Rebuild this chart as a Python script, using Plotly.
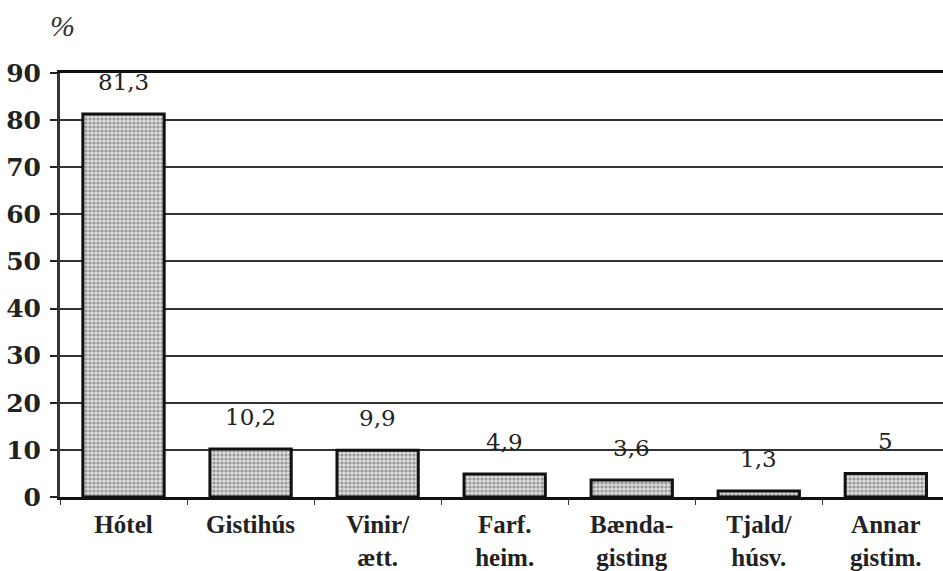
import plotly.graph_objects as go

categories = ["Hótel", "Gistihús", "Vinir/<br>ætt.", "Farf.<br>heim.",
              "Bænda-<br>gisting", "Tjald/<br>húsv.", "Annar<br>gistim."]
values = [81.3, 10.2, 9.9, 4.9, 3.6, 1.3, 5]
y_ticks = [0, 10, 20, 30, 40, 50, 60, 70, 80, 90]

labels = [f"{v:g}".replace(".", ",") for v in values]

fig = go.Figure()
fig.add_trace(go.Bar(
    x=categories, y=values, width=0.64,
    marker=dict(
        color="#cfcfcf",
        line=dict(color="#111111", width=3),
        pattern=dict(shape=".", fgcolor="#555555", bgcolor="#dcdcdc",
                     size=4, solidity=0.5),
    ),
    showlegend=False, hoverinfo="skip",
))

for c, v, t in zip(categories, values, labels):
    fig.add_annotation(x=c, y=v, text=t, showarrow=False, yanchor="middle",
                       yshift=32, font=dict(family="DejaVu Serif", size=23, color="#222"))

fig.add_annotation(xref="paper", yref="paper", x=0.003, y=1.111, text="<i>%</i>",
                   xanchor="center", yanchor="middle",
                   showarrow=False, font=dict(family="Liberation Serif", size=30, color="#333"))

fig.update_layout(
    width=943, height=571,
    margin=dict(l=60, r=0, t=73, b=74),
    plot_bgcolor="white", paper_bgcolor="white",
)
fig.update_xaxes(
    range=[-0.5, 6.45], showgrid=False, automargin=False,
    showline=True, linecolor="#111", linewidth=3, mirror=True,
    ticks="outside", tickson="boundaries", ticklen=5, tickcolor="#333", tickwidth=1,
    tickfont=dict(family="Liberation Serif", size=25, color="#222", weight="bold"),
    ticklabelstandoff=3,
)
fig.update_yaxes(
    range=[0, 90], tickvals=y_ticks, showgrid=True, gridcolor="#333", gridwidth=1.5,
    automargin=False,
    showline=True, linecolor="#333", linewidth=3, zeroline=False,
    ticks="outside", ticklen=7, tickcolor="#222", tickwidth=1.5,
    tickfont=dict(family="DejaVu Serif", size=25, color="#222", weight="bold"),
    ticklabelstandoff=4,
)

fig.write_html("out.html", config={"displayModeBar": False},
               post_script="document.body.style.margin='0';document.body.style.overflow='hidden';")
